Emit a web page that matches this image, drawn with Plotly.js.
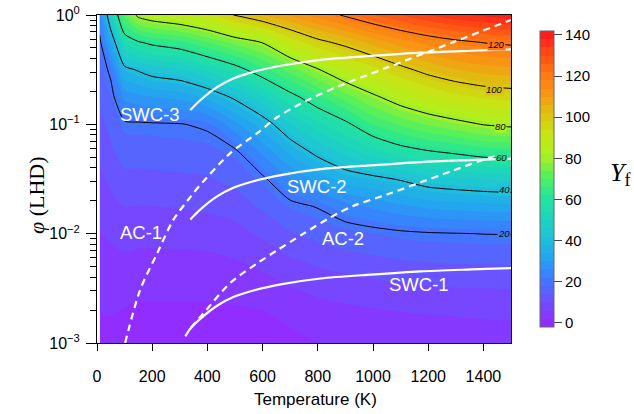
<!DOCTYPE html>
<html><head><meta charset="utf-8">
<script src="https://cdn.plot.ly/plotly-3.0.1.min.js"></script>
<style>html,body{margin:0;padding:0;background:#fff}</style>
</head><body><div id="chart" style="width:634px;height:414px"></div>
<script>
// ---- data ----
const temperatures = [10, 50, 100, 150, 200, 300, 400, 500, 600, 700, 800, 900, 1000, 1100, 1200, 1300, 1400, 1500];
const phiValues = [0.001, 0.00178, 0.00316, 0.00562, 0.01, 0.0178, 0.0316, 0.0562, 0.1, 0.178, 0.316, 0.562, 1];
const yieldGrid = [
  [1, 1, 0.5, 0, 0, 0, 0, 0, 0, 1, 2, 2.5, 3, 3.2, 3.5, 3.8, 4, 4],
  [2, 2, 1.5, 1.0, 1.1, 1.1, 1.1, 1.2, 1.5, 2.8, 3.9, 4.5, 5.1, 5.5, 5.8, 6.1, 6.3, 6.4],
  [3, 3.3, 3.2, 2.8, 2.8, 2.8, 2.9, 3.3, 4.1, 5.8, 7.0, 7.9, 8.6, 9.1, 9.6, 9.9, 10, 10.1],
  [4, 4.8, 5.2, 4.9, 4.9, 5.0, 5.1, 5.8, 7.2, 9.4, 10.9, 12.0, 12.9, 13.7, 14.2, 14.5, 14.6, 14.7],
  [5.8, 6.7, 7.5, 7.3, 7.3, 7.5, 7.7, 8.6, 10.7, 13.6, 15.3, 16.7, 17.9, 18.9, 19.5, 19.8, 20.1, 20.2],
  [7.3, 8.8, 10.1, 9.9, 10.0, 10.2, 10.7, 11.8, 14.7, 18.3, 20.4, 24.3, 26.8, 29.1, 31.0, 31.8, 32.3, 32.7],
  [9.1, 10.9, 12.8, 12.8, 12.9, 13.2, 13.6, 15.3, 18.9, 25.9, 31.3, 36.2, 38.2, 40.6, 43.8, 45.2, 46.4, 47.1],
  [10.8, 13.2, 15.8, 15.9, 16.1, 16.4, 16.8, 18.9, 27.0, 35.2, 42.1, 47.4, 52.4, 56.8, 59.4, 61.3, 63.4, 64.3],
  [12.7, 15.4, 19.0, 19.2, 19.4, 19.7, 21.1, 28.8, 36.3, 45.7, 52.8, 58.3, 66.0, 70.8, 74.5, 77.4, 80.3, 81.7],
  [14.7, 17.7, 27.2, 28.8, 30.0, 31.4, 35.0, 41.3, 49.1, 57.6, 64.7, 72.0, 78.5, 84.3, 88.9, 92.4, 94.8, 96.0],
  [16.6, 21.4, 37.9, 40.7, 43.3, 45.5, 51.0, 56.9, 64.4, 71.8, 79.4, 86.7, 92.2, 97.8, 102.6, 105.9, 107.9, 108.8],
  [18.6, 33.3, 54.8, 59.3, 61.8, 64.7, 70.0, 75.4, 80.3, 90.5, 97.8, 102.3, 107.5, 112.2, 115.6, 118.3, 120.2, 121.3],
  [24, 48, 72, 82, 85, 88, 92, 100.5, 106, 111, 116, 121, 126, 130, 134, 137, 139, 141]
];

const swc3T = [338, 374, 435, 494, 567, 676, 810, 992, 1173, 1355, 1500];
const swc3Phi = [0.135, 0.166, 0.219, 0.263, 0.302, 0.347, 0.389, 0.422, 0.452, 0.471, 0.485];
const swc2T = [338, 374, 435, 494, 567, 676, 810, 992, 1173, 1355, 1500];
const swc2Phi = [0.0135, 0.0166, 0.0219, 0.0263, 0.0302, 0.0347, 0.0389, 0.0422, 0.0452, 0.0471, 0.0485];
const swc1T = [320, 338, 374, 435, 494, 567, 676, 810, 992, 1173, 1355, 1500];
const swc1Phi = [0.00115, 0.00135, 0.00166, 0.00219, 0.00263, 0.00302, 0.00347, 0.00389, 0.00422, 0.00452, 0.00471, 0.00485];
const ac1T = [102, 156, 218, 276, 338, 374, 483, 581, 654, 763, 872, 1053, 1293, 1500];
const ac1Phi = [0.001, 0.00305, 0.00661, 0.0133, 0.0216, 0.0279, 0.0546, 0.0832, 0.1167, 0.1667, 0.2213, 0.3319, 0.5675, 0.9016];
const ac2T = [340, 385, 483, 581, 654, 748, 846, 930, 1053, 1173, 1293, 1416, 1500];
const ac2Phi = [0.00138, 0.00186, 0.00355, 0.00537, 0.00708, 0.0100, 0.0141, 0.0180, 0.0229, 0.0295, 0.0380, 0.0490, 0.0562];

const curveLabels = ['SWC-3', 'SWC-2', 'SWC-1', 'AC-1', 'AC-2'];
const curveLabelT = [193, 796, 1166, 158, 890];
const curveLabelPhi = [0.124, 0.0272, 0.00346, 0.0102, 0.0091];

const contourLevels = [20, 40, 60, 80, 100, 120];
const contourLabelT = [1475, 1475, 1467, 1462, 1440, 1449];
const contourLabelPhi = [0.0100, 0.0251, 0.0501, 0.0955, 0.209, 0.532];

const cbTicks = [0, 20, 40, 60, 80, 100, 120, 140];
const yTickVals = [0.001, 0.01, 0.1, 1];
const yTickText = ['10<sup>\u22123</sup>', '10<sup>\u22122</sup>', '10<sup>\u22121</sup>', '10<sup>0</sup>'];
const yMinorVals = [];
[0.001, 0.01, 0.1].forEach(d => { for (let k = 2; k <= 9; k++) yMinorVals.push(d * k); });

// ---- colours ----
const csVals = [-2, 0, 10, 20, 30, 40, 50, 60, 70, 80, 90, 100, 110, 120, 130, 138];
const csCols = [[145,45,255],[140,50,255],[105,85,255],[60,125,255],[35,165,240],[30,195,215],[30,215,185],
  [35,230,150],[90,240,90],[175,240,30],[200,228,20],[222,192,15],[248,150,20],[255,115,20],[255,70,20],[255,30,25]];
const lo = csVals[0], hi = csVals[csVals.length - 1];
const colorscale = csVals.map((v, i) => [(v - lo) / (hi - lo), 'rgb(' + csCols[i].join(',') + ')']);
function colorAt(v) {
  for (let i = 0; i < csVals.length - 1; i++) {
    if (v <= csVals[i + 1]) {
      const f = (v - csVals[i]) / (csVals[i + 1] - csVals[i]);
      const c = csCols[i].map((a, k) => Math.round(a + f * (csCols[i + 1][k] - a)));
      return 'rgb(' + c.join(',') + ')';
    }
  }
  return 'rgb(' + csCols[csCols.length - 1].join(',') + ')';
}

const W = 634, H = 414, L = 97, R = 123, T = 15, B = 71;
const pw = W - L - R, ph = H - T - B;
const px2x = p => (p - L) / pw, px2y = p => 1 - (p - T) / ph;

const traces = [
  {
    type: 'contour', x: temperatures, y: phiValues, z: yieldGrid,
    colorscale: colorscale, zauto: false, zmin: -2, zmax: 142,
    autocontour: false,
    contours: { start: 2, end: 138, size: 4, coloring: 'fill', showlines: false },
    line: { width: 0 },
    hoverinfo: 'skip',
    colorbar: {
      x: 1 + (539.5 - (L + pw)) / pw, xanchor: 'left', xpad: 0,
      y: 0.5005, yanchor: 'middle', ypad: 0, len: 0.9034, lenmode: 'fraction',
      thickness: 13.5, outlinecolor: '#666', outlinewidth: 1,
      tickmode: 'array', tickvals: cbTicks, ticks: 'outside', ticklen: 8, tickcolor: '#444',
      tickfont: { family: 'Liberation Sans, Arial, sans-serif', size: 15, color: '#000' }
    }
  },
  {
    type: 'contour', x: temperatures, y: phiValues, z: yieldGrid,
    autocontour: false, showscale: false,
    contours: { start: contourLevels[0], end: contourLevels[contourLevels.length - 1], size: 20, coloring: 'none' },
    line: { color: '#000', width: 1, smoothing: 0.6 },
    hoverinfo: 'skip'
  }
];
const lineStyle = (dash) => ({ color: '#fff', width: 2.2, shape: 'spline', smoothing: 0.8, dash: dash });
[[swc1T, swc1Phi, 'solid'], [swc2T, swc2Phi, 'solid'], [swc3T, swc3Phi, 'solid'],
 [ac1T, ac1Phi, '7px,5px'], [ac2T, ac2Phi, '7px,5px']].forEach(([xs, ys, d]) => {
  traces.push({ type: 'scatter', mode: 'lines', x: xs, y: ys, line: lineStyle(d), hoverinfo: 'skip', showlegend: false });
});

const annotations = [];
curveLabels.forEach((t, i) => annotations.push({
  x: curveLabelT[i], y: Math.log10(curveLabelPhi[i]), xref: 'x', yref: 'y', text: t, showarrow: false,
  font: { family: 'Liberation Sans, Arial, sans-serif', size: 18.5, color: '#fff' }
}));
contourLevels.forEach((lv, i) => annotations.push({
  x: contourLabelT[i], y: Math.log10(contourLabelPhi[i]), xref: 'x', yref: 'y',
  text: '<i>' + lv + '</i>', showarrow: false, bgcolor: colorAt(lv), borderpad: 0,
  font: { family: 'Liberation Sans, Arial, sans-serif', size: 9.5, color: '#000' }
}));
annotations.push({
  x: px2x(36), y: px2y(195), xref: 'paper', yref: 'paper', textangle: -90, showarrow: false,
  text: '<i>\u03c6</i> (LHD)', xanchor: 'center', yanchor: 'middle',
  font: { family: 'Liberation Serif, Times New Roman, serif', size: 22, color: '#000' }
});
annotations.push({
  x: px2x(620), y: px2y(174), xref: 'paper', yref: 'paper', showarrow: false,
  text: '<i>Y</i><sub>f</sub>', xanchor: 'center', yanchor: 'middle',
  font: { family: 'Liberation Serif, Times New Roman, serif', size: 26, color: '#000' }
});
annotations.push({
  x: px2x(315.5), y: px2y(399.5), xref: 'paper', yref: 'paper', showarrow: false,
  text: 'Temperature (K)', xanchor: 'center', yanchor: 'middle',
  font: { family: 'Liberation Sans, Arial, sans-serif', size: 17, color: '#000' }
});

const layout = {
  width: W, height: H, margin: { l: L, r: R, t: T, b: B },
  paper_bgcolor: '#fff', plot_bgcolor: '#fff', showlegend: false,
  xaxis: {
    range: [0, 1500], tickmode: 'array', tickvals: [0, 200, 400, 600, 800, 1000, 1200, 1400],
    ticks: 'outside', ticklen: 7, tickcolor: '#000', showgrid: false, zeroline: false,
    showline: true, linecolor: '#000', linewidth: 1, mirror: true, ticklabelstandoff: 12,
    tickfont: { family: 'Liberation Sans, Arial, sans-serif', size: 16, color: '#000' }
  },
  yaxis: {
    type: 'log', range: [-3, 0], tickmode: 'array', tickvals: yTickVals, ticktext: yTickText,
    ticks: 'outside', ticklen: 10, tickcolor: '#000', showgrid: false, zeroline: false,
    showline: true, linecolor: '#000', linewidth: 1, mirror: true, ticklabelstandoff: 3,
    minor: { tickmode: 'array', tickvals: yMinorVals, ticks: 'outside', ticklen: 6, tickcolor: '#000', showgrid: false },
    tickfont: { family: 'Liberation Sans, Arial, sans-serif', size: 16, color: '#000' }
  },
  annotations: annotations
};
Plotly.newPlot('chart', traces, layout, { staticPlot: true, displayModeBar: false });
</script></body></html>
